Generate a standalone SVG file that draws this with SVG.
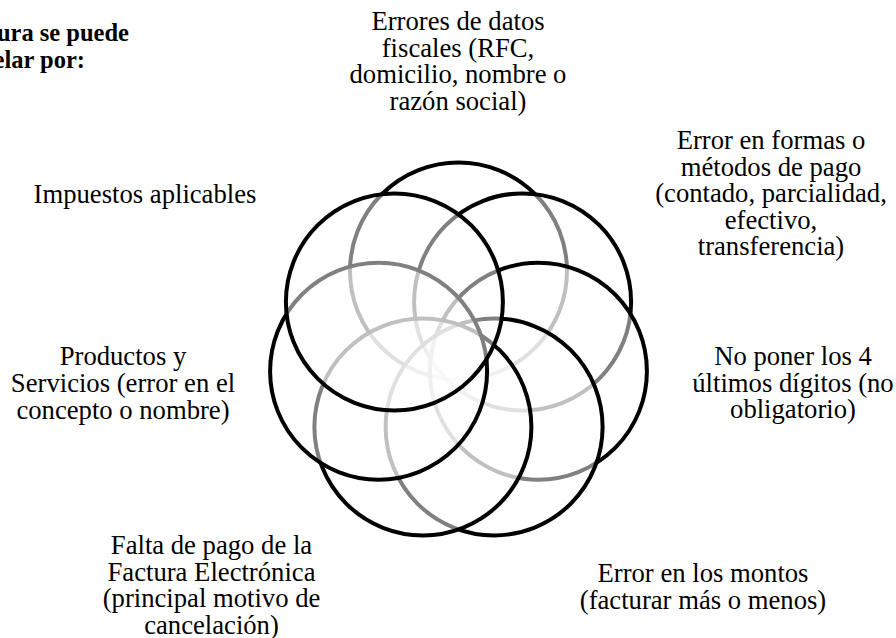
<svg xmlns="http://www.w3.org/2000/svg" width="896" height="638" viewBox="0 0 896 638">
<style>
.ring{fill:#ffffff;fill-opacity:0.5;stroke:#000000;stroke-width:4}
.lbl{font-family:"Liberation Serif","Times New Roman",serif;font-size:26.67px;fill:#000000;text-anchor:middle}
.ttl{font-family:"Liberation Serif","Times New Roman",serif;font-size:24.5px;font-weight:bold;fill:#000000;text-anchor:end}
</style>
<rect width="896" height="638" fill="#ffffff"/>
<g id="title">
<text class="ttl" x="129" y="41">factura se puede</text>
<text class="ttl" x="85" y="68">cancelar por:</text>
</g>
<g id="n0">
<circle class="ring" cx="458.5" cy="271" r="108.5"/>
<text class="lbl"><tspan x="458" y="30">Errores de datos</tspan><tspan x="458" y="56.5">fiscales (RFC,</tspan><tspan x="458" y="83">domicilio, nombre o</tspan><tspan x="458" y="109.5">razón social)</tspan></text>
</g>
<g id="n1">
<circle class="ring" cx="522.6" cy="301.9" r="108.5"/>
<text class="lbl"><tspan x="771" y="149">Error en formas o</tspan><tspan x="771" y="175.5">métodos de pago</tspan><tspan x="771" y="202">(contado, parcialidad,</tspan><tspan x="771" y="228.5">efectivo,</tspan><tspan x="771" y="255">transferencia)</tspan></text>
</g>
<g id="n2">
<circle class="ring" cx="538.4" cy="371.2" r="108.5"/>
<text class="lbl"><tspan x="793" y="365">No poner los 4</tspan><tspan x="793" y="391.5">últimos dígitos (no</tspan><tspan x="793" y="418">obligatorio)</tspan></text>
</g>
<g id="n3">
<circle class="ring" cx="494.1" cy="426.9" r="108.5"/>
<text class="lbl"><tspan x="703" y="582">Error en los montos</tspan><tspan x="703" y="608.5">(facturar más o menos)</tspan></text>
</g>
<g id="n4">
<circle class="ring" cx="422.9" cy="426.9" r="108.5"/>
<text class="lbl"><tspan x="211.5" y="554">Falta de pago de la</tspan><tspan x="211.5" y="580.5">Factura Electrónica</tspan><tspan x="211.5" y="607">(principal motivo de</tspan><tspan x="211.5" y="633.5">cancelación)</tspan></text>
</g>
<g id="n5">
<circle class="ring" cx="378.6" cy="371.2" r="108.5"/>
<text class="lbl"><tspan x="123" y="365">Productos y</tspan><tspan x="123" y="392">Servicios (error en el</tspan><tspan x="123" y="419">concepto o nombre)</tspan></text>
</g>
<g id="n6">
<circle class="ring" cx="394.4" cy="301.9" r="108.5"/>
<text class="lbl"><tspan x="145" y="203">Impuestos aplicables</tspan></text>
</g>
<g id="connectors"></g>
</svg>
